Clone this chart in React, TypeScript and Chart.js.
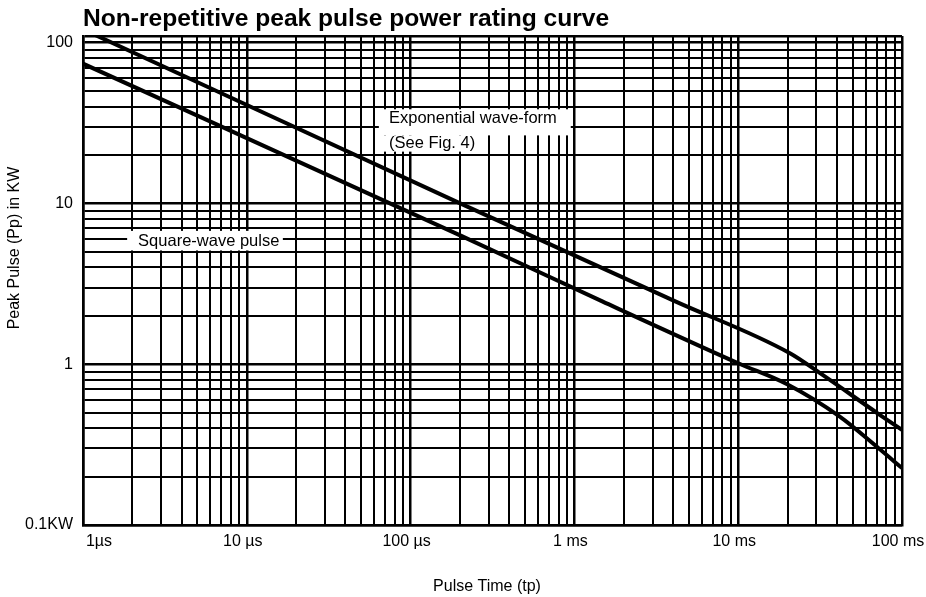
import React, { useEffect, useRef } from 'react';
import { Chart, registerables } from 'chart.js';

Chart.register(...registerables);

// ---- axis ticks (pulse time in µs, peak pulse power in kW) ----
const xTickValues = [1, 10, 100, 1000, 10000, 100000];
const xTickLabels = ['1µs', '10 µs', '100 µs', '1 ms', '10 ms', '100 ms'];
const yTickValues = [0.1, 1, 10, 100];
const yTickLabels = ['0.1KW', '1', '10', '100'];

// ---- series: exponential wave-form ----
const expTime = [1, 207, 4130, 20700, 31600, 72000, 100000];
const expPower = [121, 9.86, 2.46, 1.17, 0.88, 0.49, 0.39];

// ---- series: square-wave pulse ----
const sqTime = [1, 207, 1480, 10100, 19900, 41300, 72000, 100000];
const sqPower = [74, 6.24, 2.46, 1.01, 0.75, 0.475, 0.3, 0.226];

const FONT = '"Liberation Sans", Arial, Helvetica, sans-serif';

function decadeGrid(fromExp: number, toExp: number, extra: number[]): number[] {
  const out: number[] = [];
  for (let e = fromExp; e < toExp; e++) {
    for (let m = 1; m <= 9; m++) out.push(parseFloat((m * Math.pow(10, e)).toPrecision(6)));
  }
  return out.concat(extra);
}

const xGrid = decadeGrid(0, 5, [100000]);
const yGrid = decadeGrid(-1, 2, [100, 110]);

const near = (a: number, b: number) => Math.abs(a - b) < 1e-9 * Math.max(1, Math.abs(b));

const labelPlugin = {
  id: 'pulseLabels',
  beforeDatasetsDraw(chart: any) {
    const { ctx } = chart;
    const xs = chart.scales.x;
    const ys = chart.scales.y;
    const px = (v: number) => xs.getPixelForValue(v);
    const py = (v: number) => ys.getPixelForValue(v);
    ctx.save();
    ctx.fillStyle = '#fff';
    const rect = (x0: number, x1: number, y0: number, y1: number) => {
      const l = px(x0), r = px(x1), t = py(y0), b = py(y1);
      ctx.fillRect(l, t, r - l, b - t);
    };
    rect(64, 950, 38.5, 26.5);
    rect(64, 285, 26.5, 21);
    rect(1.86, 16.6, 6.75, 5.1);
    ctx.fillStyle = '#000';
    ctx.font = `16.5px ${FONT}`;
    ctx.textBaseline = 'middle';
    ctx.textAlign = 'left';
    ctx.fillText('Exponential wave-form', px(73.8), py(33.7));
    ctx.fillText('(See Fig. 4)', px(73.8), py(23.6));
    ctx.fillText('Square-wave pulse', px(2.17), py(5.8));
    ctx.restore();
  },
  afterDraw(chart: any) {
    const { ctx, chartArea } = chart;
    ctx.save();
    ctx.fillStyle = '#000';
    ctx.textBaseline = 'alphabetic';
    ctx.textAlign = 'left';
    ctx.font = `bold 24.6px ${FONT}`;
    ctx.fillText('Non-repetitive peak pulse power rating curve', chartArea.left, 26);
    ctx.font = `16px ${FONT}`;
    ctx.textAlign = 'center';
    ctx.textBaseline = 'middle';
    ctx.fillText('Pulse Time (tp)', 487, 587);
    ctx.translate(15, 248);
    ctx.rotate(-Math.PI / 2);
    ctx.fillText('Peak Pulse (Pp) in KW', 0, 0);
    ctx.restore();
  },
};

export default function App() {
  const ref = useRef<HTMLCanvasElement>(null);
  useEffect(() => {
    document.body.style.margin = '0';
    const canvas = ref.current;
    if (!canvas) return;
    const chart = new Chart(canvas, {
      type: 'scatter',
      data: {
        datasets: [
          {
            label: 'Exponential wave-form',
            data: expTime.map((t, i) => ({ x: t, y: expPower[i] })),
            showLine: true,
            borderColor: '#000',
            backgroundColor: '#000',
            borderWidth: 4,
            pointRadius: 0,
            cubicInterpolationMode: 'monotone',
          },
          {
            label: 'Square-wave pulse',
            data: sqTime.map((t, i) => ({ x: t, y: sqPower[i] })),
            showLine: true,
            borderColor: '#000',
            backgroundColor: '#000',
            borderWidth: 4,
            pointRadius: 0,
            cubicInterpolationMode: 'monotone',
          },
        ],
      },
      options: {
        responsive: false,
        animation: false,
        devicePixelRatio: 1,
        layout: { padding: { left: 0, top: 36, right: 24, bottom: 0 } },
        plugins: {
          legend: { display: false },
          tooltip: { enabled: false },
          title: { display: false },
        },
        scales: {
          x: {
            type: 'logarithmic',
            min: 1,
            max: 100000,
            afterBuildTicks(scale: any) {
              scale.ticks = xGrid.map((v) => ({ value: v, major: xTickValues.some((t) => near(t, v)) }));
            },
            afterFit(scale: any) {
              scale.height = 72;
              scale.paddingLeft = 0;
              scale.paddingRight = 0;
            },
            grid: {
              color: '#000',
              lineWidth: (c: any) => (c.tick && c.tick.major ? 2.5 : 2),
              drawTicks: false,
            },
            border: { display: true, color: '#000', width: 2.5 },
            ticks: {
              autoSkip: false,
              maxRotation: 0,
              minRotation: 0,
              padding: 7,
              labelOffset: -4,
              color: '#000',
              font: { size: 16, family: FONT },
              callback: (value: any) => {
                const i = xTickValues.findIndex((t) => near(t, Number(value)));
                if (i < 0) return '';
                return i === 0 ? '         ' + xTickLabels[i] : xTickLabels[i];
              },
            },
          },
          y: {
            type: 'logarithmic',
            min: 0.1,
            max: 110,
            afterBuildTicks(scale: any) {
              scale.ticks = yGrid.map((v) => ({ value: v, major: yTickValues.some((t) => near(t, v)) || v === 110 }));
            },
            afterFit(scale: any) {
              scale.width = 83;
            },
            grid: {
              color: '#000',
              lineWidth: (c: any) => (c.tick && c.tick.major ? 2.5 : 2),
              drawTicks: false,
            },
            border: { display: true, color: '#000', width: 2.5 },
            ticks: {
              autoSkip: false,
              padding: 10,
              color: '#000',
              font: { size: 16, family: FONT },
              callback: (value: any) => {
                const i = yTickValues.findIndex((t) => near(t, Number(value)));
                return i < 0 ? '' : yTickLabels[i];
              },
            },
          },
        },
      },
      plugins: [labelPlugin],
    } as any);
    return () => chart.destroy();
  }, []);
  return (
    <div style={{ width: 926, height: 597 }}>
      <canvas ref={ref} width={926} height={597} style={{ display: 'block' }} />
    </div>
  );
}
